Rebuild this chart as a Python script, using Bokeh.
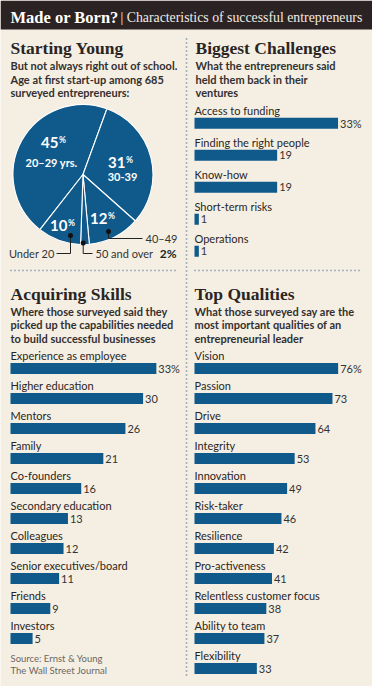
import math
from bokeh.plotting import figure
from bokeh.models import Range1d
from bokeh.core.properties import value
from bokeh.embed import file_html
from bokeh.resources import INLINE

# ---------------- data ----------------
age_groups = ["20–29 yrs.", "30-39", "40–49", "50 and over", "Under 20"]
age_shares = [45, 31, 12, 2, 10]

challenge_labels = ["Access to funding", "Finding the right people", "Know-how",
                    "Short-term risks", "Operations"]
challenge_values = [33, 19, 19, 1, 1]

skill_labels = ["Experience as employee", "Higher education", "Mentors", "Family",
                "Co-founders", "Secondary education", "Colleagues",
                "Senior executives/board", "Friends", "Investors"]
skill_values = [33, 30, 26, 21, 16, 13, 12, 11, 9, 5]

quality_labels = ["Vision", "Passion", "Drive", "Integrity", "Innovation", "Risk-taker",
                  "Resilience", "Pro-activeness", "Relentless customer focus",
                  "Ability to team", "Flexibility"]
quality_values = [76, 73, 64, 53, 49, 46, 42, 41, 38, 37, 33]

# ---------------- style ----------------
BG = "#f5efe3"
BLUE = "#0f5a8b"
INK = "#2a2523"
DARK = "#2b2224"
DOT = "#4f7394"
SERIF = "Liberation Serif"
SANS = "Lato"

W, H = 372, 686


def Y(y):
    return H - y


p = figure(width=W, height=H, output_backend="svg", toolbar_location=None,
           x_range=Range1d(0, W), y_range=Range1d(0, H),
           min_border=0, background_fill_color=BG, border_fill_color=BG,
           outline_line_color=None)
p.axis.visible = False
p.grid.visible = False


def txt(x, y, s, size="11px", font=SANS, style="normal", color=INK,
        align="left", baseline="middle", **kw):
    p.text(x=[x], y=[Y(y)], text=[s], text_font=value(font), text_font_size=size,
           text_font_style=style, text_color=color, text_align=align,
           text_baseline=baseline, **kw)


# header band
p.quad(left=[0], right=[W], bottom=[Y(29)], top=[Y(0)], color=DARK, line_color=None)
txt(10, 17, "Made or Born?", size="16.5px", font=SERIF, style="bold", color="white")
txt(120, 17.3, "| Characteristics of successful entrepreneurs", size="13.8px",
    font=SERIF, color="#f2ece4")

# dotted separators
p.line(x=[186, 186], y=[Y(38), Y(676)], line_color=DOT, line_width=1.6, line_dash="1 3")
p.line(x=[10, 178], y=[Y(270), Y(270)], line_color=DOT, line_width=1.6, line_dash="1 3")
p.line(x=[194, 362], y=[Y(270), Y(270)], line_color=DOT, line_width=1.6, line_dash="1 3")

# section headers and subtitles
def section(x, mid, title, lines, first):
    txt(x, mid, title, size="17.5px", font=SERIF, style="bold", color=INK)
    for i, ln in enumerate(lines):
        txt(x, first + 13.5 * i, ln, size="11px", style="bold", color="#333030")


section(10, 47, "Starting Young",
        ["But not always right out of school.", "Age at first start-up among 685",
         "surveyed entrepreneurs:"], 65)
section(195, 47, "Biggest Challenges",
        ["What the entrepreneurs said", "held them back in their", "ventures"], 65)
section(10, 293.5, "Acquiring Skills",
        ["Where those surveyed said they", "picked up the capabilities needed",
         "to build successful businesses"], 310.5)
section(194, 293.5, "Top Qualities",
        ["What those surveyed say are the", "most important qualities of an",
         "entrepreneurial leader"], 310.5)

# ---------------- pie ----------------
cx, cy, R = 82.5, 174, 70
theta = -142.0  # clockwise from 12 o'clock, where the first slice starts
starts, ends = [], []
for s in age_shares:
    a0 = theta
    a1 = theta + s * 3.6
    starts.append(math.radians(90 - a1))
    ends.append(math.radians(90 - a0))
    theta = a1
p.wedge(x=cx, y=Y(cy), radius=R, start_angle=starts, end_angle=ends,
        fill_color=BLUE, line_color="white", line_width=1.1)

# inline pie labels (layout positions)
num_pos = {0: (58, 142), 1: (125, 162), 2: (107, 218), 4: (67, 225)}
age_pos = {0: (51, 162), 1: (122, 176)}
for i, (nx, ny) in num_pos.items():
    txt(nx, ny, str(age_shares[i]), size="15px", style="bold", color="white",
        align="right")
    txt(nx + 0.5, ny - 2.5, "%", size="8.5px", style="bold", color="white")
for i, (ax, ay) in age_pos.items():
    txt(ax, ay, age_groups[i], size="11px", style="bold", color="white",
        align="center")

# callouts
p.multi_line(xs=[[70, 70, 56], [82.7, 82.7, 92], [108, 108, 142]],
             ys=[[Y(235), Y(253), Y(253)], [Y(242.5), Y(253), Y(253)],
                 [Y(231), Y(238), Y(238)]],
             line_color="#222", line_width=1)
p.scatter(x=[70, 82.7, 108], y=[Y(235), Y(242.5), Y(231)], size=5,
          color="#111", line_color=None)
txt(54, 253, age_groups[4], size="11px", color="#333", align="right")
txt(95, 253, age_groups[3], size="11px", color="#333")
txt(176, 253, f"{age_shares[3]}%", size="12px", style="bold", color="#222",
    align="right")
txt(145, 238, age_groups[2], size="11px", color="#333")

# ---------------- bar panels ----------------
def bars(name, labels, vals, x0, k, top0, step, bh=11):
    start = -x0 / k
    p.extra_x_ranges[name] = Range1d(start, start + W / k)
    yc = [Y(top0 + step * i + bh / 2) for i in range(len(vals))]
    p.hbar(y=yc, left=0, right=vals, height=bh, fill_color=BLUE,
           line_color=None, x_range_name=name)
    p.text(x=[0] * len(vals), y=[Y(top0 + step * i - 7.5) for i in range(len(vals))],
           text=labels, text_font=value(SANS), text_font_size="11px",
           text_color=INK, text_baseline="middle", x_range_name=name)
    vt = [f"{v}%" if i == 0 else str(v) for i, v in enumerate(vals)]
    p.text(x=vals, y=yc, text=vt, text_font=value(SANS), text_font_size="11px",
           text_color="#333", text_baseline="middle", x_offset=2,
           x_range_name=name)


bars("chal", challenge_labels, challenge_values, 194, 4.35, 117.3, 32)
bars("skill", skill_labels, skill_values, 10, 4.42, 362.5, 30)
bars("qual", quality_labels, quality_values, 194, 1.89, 362.5, 30)

# source
txt(10, 657.5, "Source: Ernst & Young", size="9.5px", color="#6b6763")
txt(10, 669.5, "The Wall Street Journal", size="9.5px", color="#6b6763")

open("out.html", "w").write(file_html(p, INLINE))
